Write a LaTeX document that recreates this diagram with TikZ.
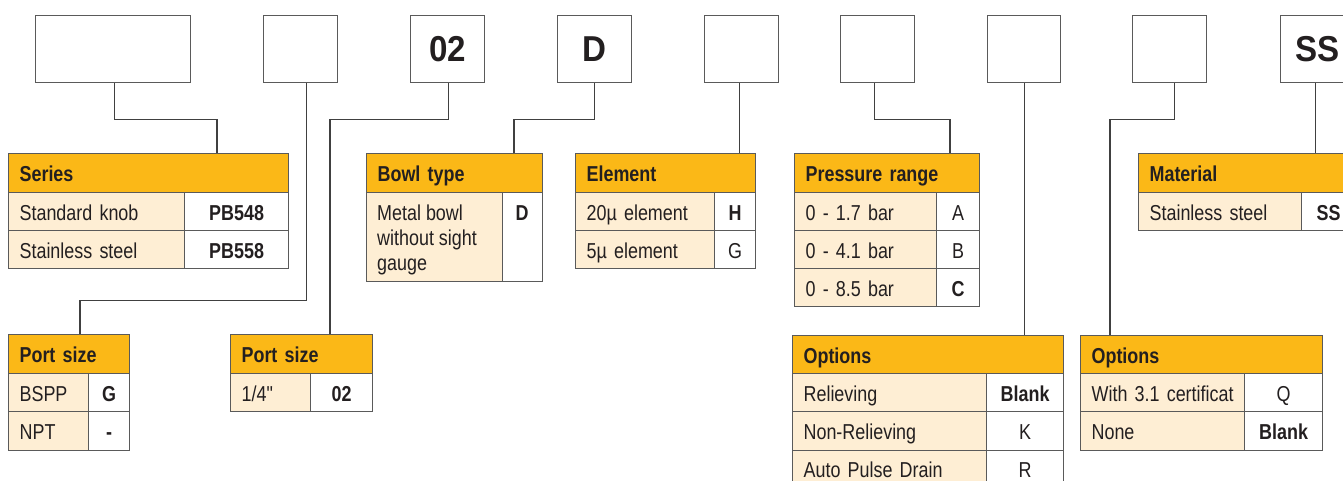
\documentclass[tikz,border=0pt]{standalone}
\usepackage{fontspec}
\setmainfont[FakeStretch=0.83]{Liberation Sans}
\newfontfamily\qfont[FakeStretch=0.83]{Liberation Sans}
\newfontfamily\bigfont[FakeStretch=0.92]{Liberation Sans}
\definecolor{hdrO}{HTML}{FBB817}
\definecolor{bodyO}{HTML}{FEEED4}
\definecolor{lineG}{HTML}{5A5A5A}
\definecolor{connG}{HTML}{404040}
\definecolor{txt}{HTML}{231F20}
\newcommand\bodyfont{\fontsize{21.6}{25.3}\selectfont}
\tikzset{
  topbox/.style={draw=lineG, line width=1.3pt, minimum height=67pt, inner sep=0pt, anchor=north west, font=\bigfont\fontsize{36}{40}\selectfont\bfseries, text=txt},
  hdr/.style={draw=lineG, line width=1.2pt, fill=hdrO, anchor=north west, inner xsep=11pt, inner ysep=0pt, align=left, text height=17pt, text depth=0pt, font=\bodyfont\bfseries, text=txt},
  lcellst/.style={draw=lineG, line width=1.2pt, fill=bodyO, anchor=north west, inner xsep=11pt, inner ysep=0pt, align=left, font=\bodyfont, text=txt},
  rcellst/.style={draw=lineG, line width=1.2pt, fill=white, anchor=north west, inner xsep=0pt, inner ysep=0pt, align=center, font=\bodyfont, text=txt},
  conn/.style={draw=connG, line width=1.1pt},
}
% name, x, y, width, text
\newcommand\hdcell[5]{\node[hdr, text width=\dimexpr#4pt-22pt\relax, minimum height=39pt] (#1) at (#2,#3) {#5};}
% name, x, y, width, height, text
\newcommand\lcell[6]{\node[lcellst, text width=\dimexpr#4pt-22pt\relax, minimum height=#5pt, text height=17pt, text depth=0pt] (#1) at (#2,#3) {#6};}
\newcommand\rcell[6]{\node[rcellst, text width=#4pt, minimum height=#5pt, text height=17pt, text depth=0pt] (#1) at (#2,#3) {#6};}
\begin{document}
\begin{tikzpicture}[x=1pt,y=-1pt]
\useasboundingbox (0,0) rectangle (1343,481);
\clip (0,0) rectangle (1343,481);
\fill[white] (0,0) rectangle (1343,481);

% top code boxes
\node[topbox, minimum width=155pt] (b1) at (35,15) {};
\node[topbox, minimum width=74pt] (b2) at (263,15) {};
\node[topbox, minimum width=74pt] (b3) at (410,15) {02};
\node[topbox, minimum width=74pt] (b4) at (557,15) {D};
\node[topbox, minimum width=74pt] (b5) at (704,15) {};
\node[topbox, minimum width=74pt] (b6) at (840,15) {};
\node[topbox, minimum width=73pt] (b7) at (987,15) {};
\node[topbox, minimum width=74pt] (b8) at (1132,15) {};
\node[topbox, minimum width=74pt] (b9) at (1280,15) {SS};

% Series
\hdcell{series}{8}{153}{280}{Series}
\lcell{series1l}{8}{192}{176}{38}{Standard knob}
\rcell{series1r}{184}{192}{104}{38}{\bfseries PB548}
\lcell{series2l}{8}{230}{176}{38}{Stainless steel}
\rcell{series2r}{184}{230}{104}{38}{\bfseries PB558}

% Port size 1
\hdcell{port1}{8}{334}{121}{Port size}
\lcell{port1al}{8}{373}{80}{38}{BSPP}
\rcell{port1ar}{88}{373}{41}{38}{\bfseries G}
\lcell{port1bl}{8}{411}{80}{39}{NPT}
\rcell{port1br}{88}{411}{41}{39}{\bfseries -}

% Port size 2
\hdcell{port2}{230}{334}{142}{Port size}
\lcell{port2al}{230}{373}{80}{38}{1/4{\qfont "}}
\rcell{port2ar}{310}{373}{62}{38}{\bfseries 02}

% Bowl type
\hdcell{bowl}{366}{153}{176}{Bowl type}
\node[lcellst, minimum width=136pt, minimum height=89pt] (bowl1l) at (366,192) {};
\node[rcellst, minimum width=40pt, minimum height=89pt] (bowl1r) at (502,192) {};
\node[anchor=north west, inner sep=0pt, align=left, font=\bodyfont, text=txt] (bowltext) at (377,203) {\rule{0pt}{17pt}Metal bowl\\without sight\\gauge};
\node[anchor=base, inner sep=0pt, font=\bodyfont\bfseries, text=txt] (bowlD) at (522,220) {D};

% Element
\hdcell{element}{575}{153}{180}{Element}
\lcell{elem1l}{575}{192}{139}{38}{20\textmu\ element}
\rcell{elem1r}{714}{192}{41}{38}{\bfseries H}
\lcell{elem2l}{575}{230}{139}{38}{5\textmu\ element}
\rcell{elem2r}{714}{230}{41}{38}{G}

% Pressure range
\hdcell{press}{794}{153}{185}{Pressure range}
\lcell{press1l}{794}{192}{142}{38}{0 - 1.7 bar}
\rcell{press1r}{936}{192}{43}{38}{A}
\lcell{press2l}{794}{230}{142}{38}{0 - 4.1 bar}
\rcell{press2r}{936}{230}{43}{38}{B}
\lcell{press3l}{794}{268}{142}{38}{0 - 8.5 bar}
\rcell{press3r}{936}{268}{43}{38}{\bfseries C}

% Options 1
\hdcell{opt1}{792}{335}{271}{Options}
\lcell{opt1al}{792}{373}{194}{38}{Relieving}
\rcell{opt1ar}{986}{373}{77}{38}{\bfseries Blank}
\lcell{opt1bl}{792}{411}{194}{39}{Non-Relieving}
\rcell{opt1br}{986}{411}{77}{39}{K}
\lcell{opt1cl}{792}{450}{194}{36}{Auto Pulse Drain}
\rcell{opt1cr}{986}{450}{77}{36}{R}

% Options 2
\hdcell{opt2}{1080}{335}{242}{Options}
\lcell{opt2al}{1080}{373}{164}{38}{With 3.1 certificat}
\rcell{opt2ar}{1244}{373}{78}{38}{Q}
\lcell{opt2bl}{1080}{411}{164}{39}{None}
\rcell{opt2br}{1244}{411}{78}{39}{\bfseries Blank}

% Material
\hdcell{mat}{1138}{153}{222}{Material}
\lcell{mat1l}{1138}{192}{163}{38}{Stainless steel}
\rcell{mat1r}{1301}{192}{54}{38}{\bfseries SS}

% connectors
\draw[conn] ([xshift=1.5pt]b1.south) -- ++(0,36) -| ([xshift=209pt]series.north west);
\draw[conn] ([xshift=6pt]b2.south) -- ++(0,217) -| ([xshift=72pt]port1.north west);
\draw[conn] ([xshift=1pt]b3.south) -- ++(0,36) -| ([xshift=100pt]port2.north west);
\draw[conn] (b4.south) -- ++(0,36) -| ([xshift=148pt]bowl.north west);
\draw[conn] ([xshift=-2pt]b5.south) -- ([xshift=-2pt]b5.south |- element.north);
\draw[conn] ([xshift=-3pt]b6.south) -- ++(0,36) -| ([xshift=156pt]press.north west);
\draw[conn] (b7.south) -- (b7.south |- opt1.north);
\draw[conn] ([xshift=5pt]b8.south) -- ++(0,36) -| ([xshift=30pt]opt2.north west);
\draw[conn] ([xshift=-2pt]b9.south) -- ([xshift=-2pt]b9.south |- mat.north);
\end{tikzpicture}
\end{document}
